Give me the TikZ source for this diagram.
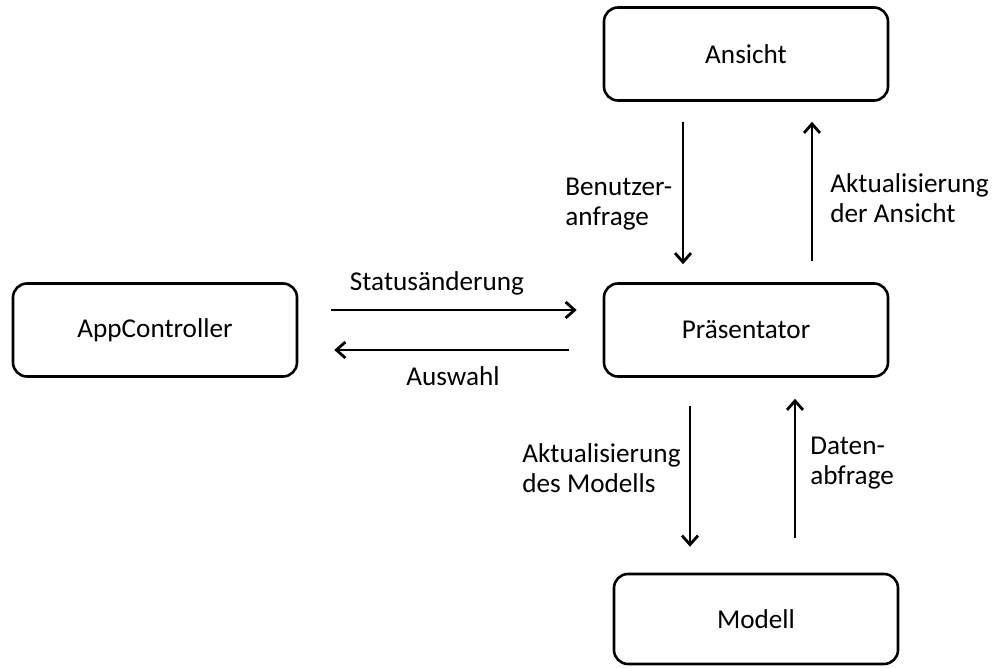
\documentclass[tikz,border=0pt]{standalone}
\usepackage{fontspec}
\setmainfont{Carlito}
\usetikzlibrary{arrows, arrows.meta}

\begin{document}
\begin{tikzpicture}[x=0.5pt, y=-0.5pt,
    every node/.style={font=\fontsize{13.6}{14.8}\selectfont},
    box/.style={draw, line width=1.3pt, rounded corners=7pt, minimum width=142pt, minimum height=46.5pt, inner sep=0pt},
    lbl/.style={align=left, anchor=west, inner sep=0pt},
    flow/.style={line width=1.3pt, -{Straight Barb[length=4.5pt, width=8pt, line width=1.4pt]}}]

    \useasboundingbox (0,0) rectangle (992,668);

    % boxes
    \node[box] (ansicht) at (746,54) {Ansicht};
    \node[box] (app) at (155,330) {AppController};
    \node[box] (praes) at (746,330) {Präsentator};
    \node[box, minimum height=45pt] (modell) at (756,619) {Modell};

    % labels
    \node[lbl] (lbenutzer) at (565,204) {Benutzer-\\anfrage};
    \node[lbl] (lansicht) at (830,198) {Aktualisierung\\der Ansicht};
    \node[inner sep=0pt] (lstatus) at (437,283) {Statusänderung};
    \node[inner sep=0pt] (lauswahl) at (453,376) {Auswahl};
    \node[lbl] (lmodell) at (522,468) {Aktualisierung\\des Modells};
    \node[lbl] (ldaten) at (810,463) {Daten-\\abfrage};

    % arrows
    \draw[flow] ([xshift=-31.5pt, yshift=-10pt]ansicht.south) -- ([xshift=-31.5pt, yshift=9pt]praes.north);
    \draw[flow] ([xshift=33pt, yshift=10.5pt]praes.north) -- ([xshift=33pt, yshift=-10pt]ansicht.south);
    \draw[flow] ([xshift=16.5pt, yshift=10pt]app.east) -- ([xshift=-13pt, yshift=10pt]praes.west);
    \draw[flow] ([xshift=-17pt, yshift=-10pt]praes.west) -- ([xshift=18pt, yshift=-10pt]app.east);
    \draw[flow] ([xshift=-28pt, yshift=-14pt]praes.south) -- ([xshift=-33pt, yshift=13pt]modell.north);
    \draw[flow] ([xshift=19.5pt, yshift=17.5pt]modell.north) -- ([xshift=24.5pt, yshift=-10.5pt]praes.south);
\end{tikzpicture}
\end{document}
